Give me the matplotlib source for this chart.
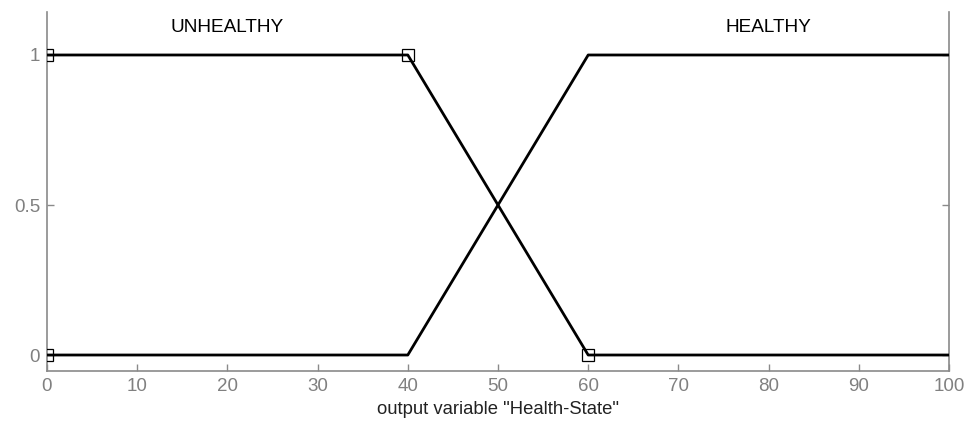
import matplotlib
matplotlib.use("Agg")
import matplotlib.pyplot as plt

plt.rcParams['font.family'] = ['Liberation Sans', 'DejaVu Sans']

# data
unhealthy_x = [0, 40, 60, 100]
unhealthy_y = [1, 1, 0, 0]
healthy_x = [0, 40, 60, 100]
healthy_y = [0, 0, 1, 1]
param_x = [0, 0, 40, 60]
param_y = [0, 1, 1, 0]
labels = ["UNHEALTHY", "HEALTHY"]
label_x = [20, 80]
x_ticks = [0, 10, 20, 30, 40, 50, 60, 70, 80, 90, 100]
y_ticks = [0, 0.5, 1]
y_ticklabels = ["0", "0.5", "1"]

W, H = 973, 423
fig = plt.figure(figsize=(W / 100, H / 100), dpi=100)
ax = fig.add_axes([47 / W, 1 - 371 / H, (949 - 47) / W, (371 - 12) / H])

ax.plot(unhealthy_x, unhealthy_y, color='black', lw=2, zorder=3)
ax.plot(healthy_x, healthy_y, color='black', lw=2, zorder=3)
ax.plot(param_x, param_y, linestyle='none', marker='s', markersize=9,
        markerfacecolor='none', markeredgecolor='black', markeredgewidth=0.9,
        clip_on=True, zorder=4)

for t, x in zip(labels, label_x):
    ax.text(x, 1.09, t, ha='center', va='center', fontsize=13.7, color='black')

ax.set_xlim(0, 100)
ax.set_ylim(-0.0533, 1.1433)
ax.set_xticks(x_ticks)
ax.set_yticks(y_ticks)
ax.set_yticklabels(y_ticklabels)

spine_c = '#8a8a8a'
for s in ['left', 'right', 'bottom']:
    ax.spines[s].set_color(spine_c)
    ax.spines[s].set_linewidth(1.2)
ax.spines['top'].set_visible(False)
ax.tick_params(direction='in', length=5, width=1, color=spine_c,
               labelcolor='#808080', labelsize=13.5, right=True, pad=5)
ax.set_xlabel('output variable "Health-State"', fontsize=13.3, color='#222222', labelpad=4)

fig.savefig('out.png', dpi=100)
